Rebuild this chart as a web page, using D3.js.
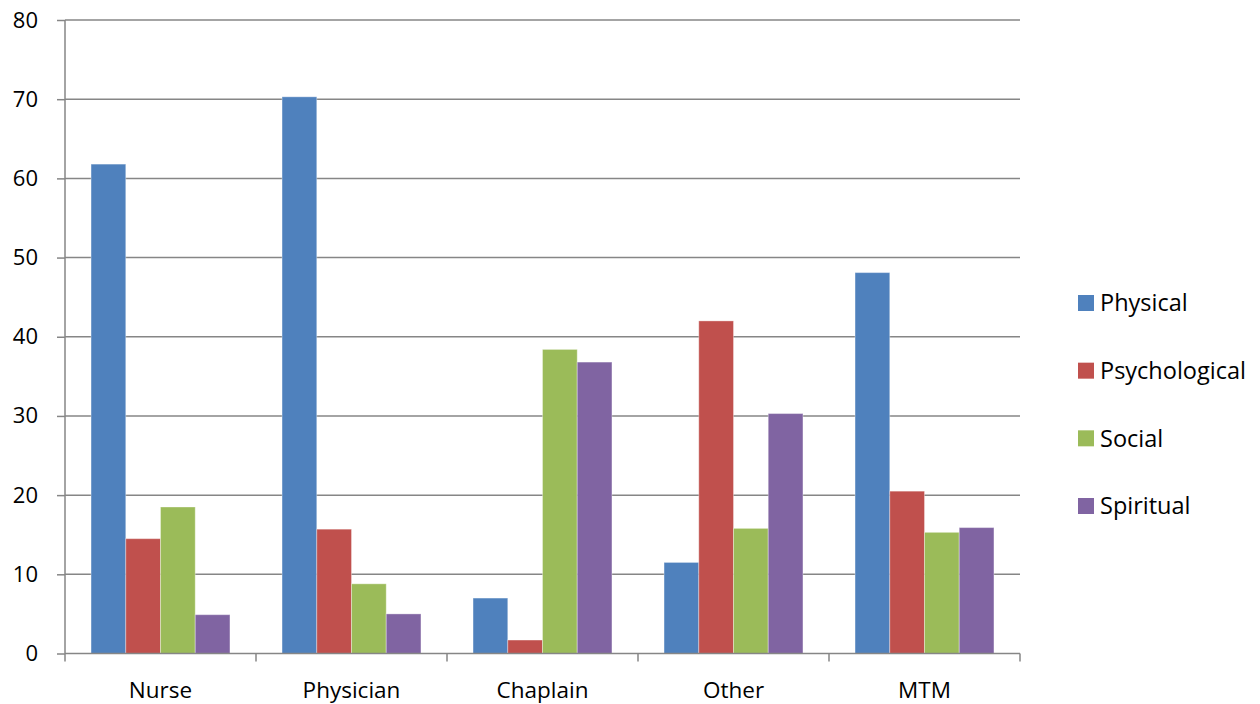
<!DOCTYPE html>
<html><head><meta charset="utf-8">
<script src="https://cdn.jsdelivr.net/npm/d3@7"></script>
<style>body{margin:0;background:#fff}svg{display:block}text{font-family:"Open Sans","Noto Sans",sans-serif;fill:#000}</style>
</head><body><svg id="c" width="1260" height="704"></svg>
<script>
const categories = ["Nurse","Physician","Chaplain","Other","MTM"];
const seriesNames = ["Physical","Psychological","Social","Spiritual"];
const physical = [61.8, 70.3, 7.0, 11.5, 48.1];
const psychological = [14.5, 15.7, 1.7, 42.0, 20.5];
const social = [18.5, 8.8, 38.4, 15.8, 15.3];
const spiritual = [4.9, 5.0, 36.8, 30.3, 15.9];
const yTicks = [0,10,20,30,40,50,60,70,80];
const colors = ["#4F81BD","#C0504D","#9BBB59","#8064A2"];
const seriesValues = [physical, psychological, social, spiritual];

const svg = d3.select("#c");
const L = 65, R = 1020, T = 20, B = 653.5;
const x = d3.scaleBand().domain(categories).range([L, R]).paddingInner(0).paddingOuter(0);
const inner = d3.scaleBand().domain(seriesNames).range([0, x.bandwidth()]).paddingInner(0).paddingOuter(0.75);
const y = d3.scaleLinear().domain([0,80]).range([B, T]);

// gridlines
svg.append("g").selectAll("line").data(yTicks.filter(d=>d>0)).join("line")
  .attr("x1", L).attr("x2", R).attr("y1", d=>y(d)).attr("y2", d=>y(d))
  .attr("stroke", "#868686").attr("stroke-width", 1.5);

// bars
const g = svg.append("g");
seriesValues.forEach((vals, si) => {
  g.selectAll(null).data(vals).join("rect")
    .attr("x", (d,i)=> x(categories[i]) + inner(seriesNames[si]))
    .attr("width", inner.bandwidth())
    .attr("y", d=>y(d)).attr("height", d=>B - y(d))
    .attr("fill", colors[si])
    .attr("stroke", "rgba(255,255,255,0.35)").attr("stroke-width", 1);
});

// y axis
const ya = svg.append("g").attr("transform", `translate(${L},0)`)
  .call(d3.axisLeft(y).tickValues(yTicks).tickSize(8).tickPadding(19).tickFormat(d3.format("d")));
ya.select(".domain").attr("stroke", "#868686").attr("stroke-width", 1.5).attr("d", `M0,${B}V${T}`);
ya.selectAll(".tick line").attr("stroke", "#868686").attr("stroke-width", 1.5);
ya.selectAll(".tick text").attr("font-size", 22).attr("font-family", "Open Sans").attr("fill", "#000");

// x axis
const xa = svg.append("g").attr("transform", `translate(0,${B})`)
  .call(d3.axisBottom(x).tickSize(0).tickPadding(0));
xa.select(".domain").attr("stroke", "#868686").attr("stroke-width", 1.5).attr("d", `M${L},0H${R}`);
xa.selectAll(".tick text").attr("font-size", 22.5).attr("font-family", "Open Sans").attr("fill", "#000")
  .attr("y", 44).attr("dy", 0);
const boundaries = categories.map(c=>x(c)).concat([R]);
xa.append("g").selectAll("line").data(boundaries).join("line")
  .attr("x1", d=>d).attr("x2", d=>d).attr("y1", 0).attr("y2", 8)
  .attr("stroke", "#868686").attr("stroke-width", 1.5);

// legend
const lg = svg.append("g").attr("transform", "translate(1078,0)");
const ly = d3.scalePoint().domain(seriesNames).range([303, 506]);
lg.selectAll("rect").data(seriesNames).join("rect")
  .attr("x", 0).attr("y", d=>ly(d)-8).attr("width", 16).attr("height", 16)
  .attr("fill", (d,i)=>colors[i]);
lg.selectAll("text").data(seriesNames).join("text")
  .attr("x", 22).attr("y", d=>ly(d)).attr("dy", "0.36em")
  .attr("font-size", 23.5).text(d=>d);
</script></body></html>
